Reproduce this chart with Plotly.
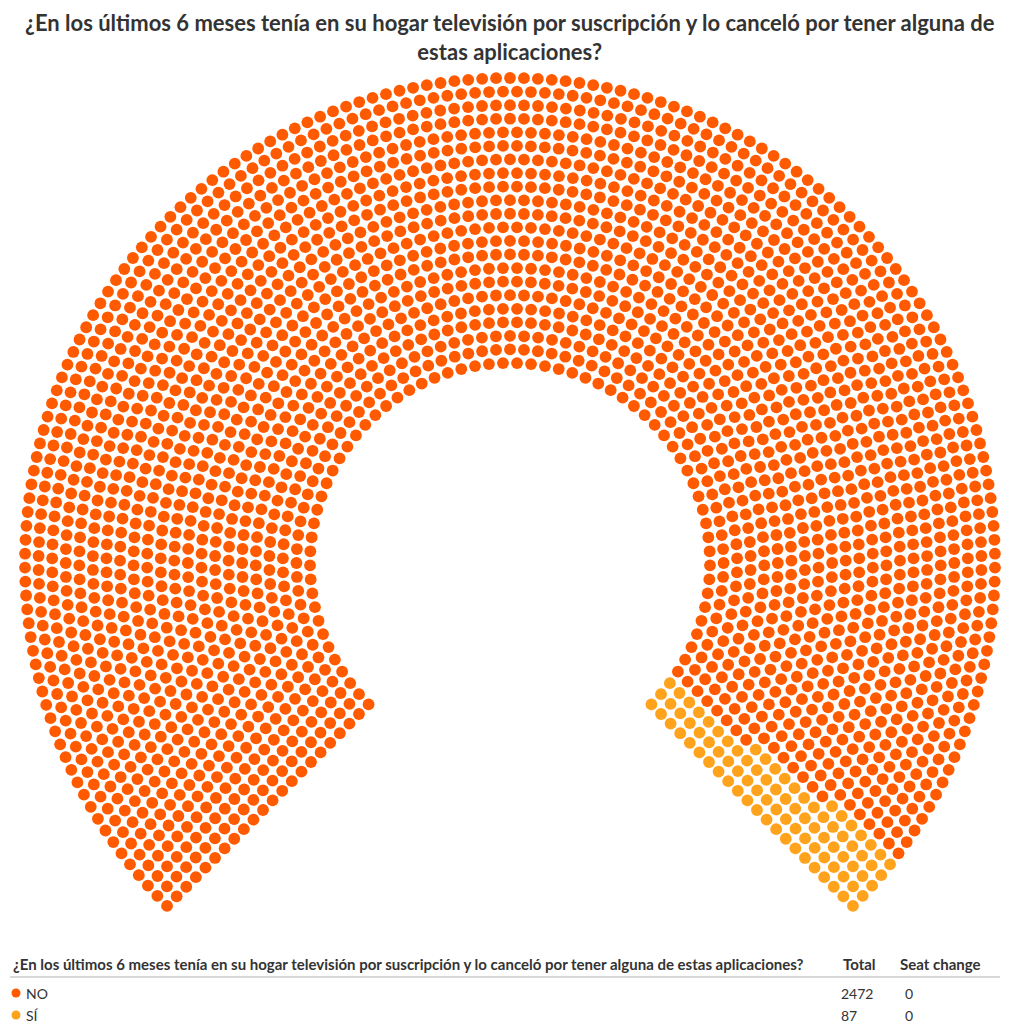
import numpy as np
import plotly.graph_objects as go

# ---- data ----
parties = ["NO", "SÍ"]
seats = [2472, 87]
seat_change = [0, 0]
colors = ["#FF5A00", "#FFA21C"]
title_text = ("¿En los últimos 6 meses tenía en su hogar televisión por suscripción y lo canceló por tener alguna de"
              "<br>estas aplicaciones?")
table_header = ("¿En los últimos 6 meses tenía en su hogar televisión por suscripción y lo canceló "
                "por tener alguna de estas aplicaciones?")
table_columns = ["Total", "Seat change"]

# ---- layout geometry (pixels) ----
W, H = 1020, 1036
OFF = 8  # page body margin compensation
cx, cy = 510.0, 563.0
R_out, R_in = 485.0, 200.0
n_rows = 22
a_start, a_end = np.radians(225.0), np.radians(-45.0)

N = sum(seats)
radii = R_in + (R_out - R_in) * np.arange(n_rows) / (n_rows - 1)
raw = N * radii / radii.sum()
per_row = np.floor(raw).astype(int)
rem = N - per_row.sum()
order = np.argsort(-(raw - per_row))
per_row[order[:rem]] += 1

pts = []
for r, n in zip(radii, per_row):
    angs = np.linspace(a_start, a_end, n)
    for a in angs:
        pts.append((a, r))
pts.sort(key=lambda p: (-p[0], p[1]))
pts = np.array(pts)
xs = cx + pts[:, 1] * np.cos(pts[:, 0])
ys = cy - pts[:, 1] * np.sin(pts[:, 0])

fig = go.Figure()
idx = 0
for name, s, c in zip(parties, seats, colors):
    fig.add_trace(go.Scatter(x=xs[idx:idx + s], y=ys[idx:idx + s], mode="markers",
                             marker=dict(size=11.8, color=c, line=dict(width=0)),
                             name=name, hoverinfo="name", showlegend=False))
    idx += s

FONT = "Lato"
TXT = "#333333"
# title
fig.add_annotation(x=W / 2, y=37, text="<b>" + title_text + "</b>", showarrow=False,
                   xanchor="center", yanchor="middle",
                   font=dict(family=FONT, size=22, color=TXT))

# table
fig.add_annotation(x=11, y=964, text="<b>" + table_header + "</b>", showarrow=False,
                   xanchor="left", yanchor="middle", font=dict(family=FONT, size=15, color=TXT))
col_x = [841, 898]
for t, xx in zip(table_columns, col_x):
    fig.add_annotation(x=xx, y=964, text="<b>" + t + "</b>", showarrow=False,
                       xanchor="left", yanchor="middle", font=dict(family=FONT, size=15, color=TXT))
fig.add_shape(type="line", x0=10, x1=1000, y0=977, y1=977, line=dict(color="#b0b0b0", width=1))

row_y = [993, 1015]
fig.add_trace(go.Scatter(x=[16] * len(parties), y=row_y, mode="markers",
                         marker=dict(size=9, color=colors), hoverinfo="skip", showlegend=False))
for name, s, ch, yy in zip(parties, seats, seat_change, row_y):
    fig.add_annotation(x=24, y=yy, text=name, showarrow=False, xanchor="left", yanchor="middle",
                       font=dict(family=FONT, size=14, color=TXT))
    fig.add_annotation(x=839, y=yy, text=str(s), showarrow=False, xanchor="left", yanchor="middle",
                       font=dict(family=FONT, size=14, color=TXT))
    fig.add_annotation(x=903, y=yy, text=str(ch), showarrow=False, xanchor="left", yanchor="middle",
                       font=dict(family=FONT, size=14, color=TXT))

fig.update_layout(width=W, height=H, margin=dict(l=0, r=0, t=0, b=0),
                  plot_bgcolor="white", paper_bgcolor="white",
                  xaxis=dict(range=[OFF, W + OFF], visible=False, fixedrange=True),
                  yaxis=dict(range=[H + OFF, OFF], visible=False, fixedrange=True))
fig.write_html("out.html")
